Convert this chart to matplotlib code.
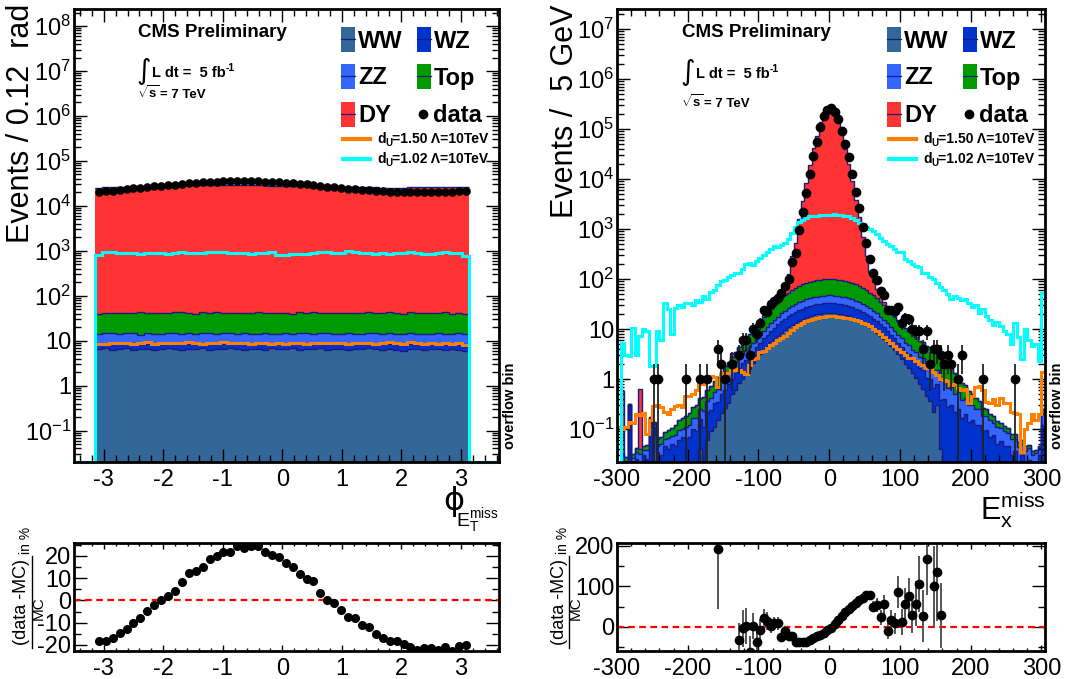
import numpy as np
import matplotlib
matplotlib.use("Agg")
import matplotlib.pyplot as plt
from matplotlib.patches import Rectangle
from matplotlib.lines import Line2D
from matplotlib.ticker import MultipleLocator, LogLocator, FuncFormatter, NullFormatter

plt.rcParams['font.family'] = ['Liberation Sans', 'DejaVu Sans']
plt.rcParams['mathtext.fontset'] = 'custom'
plt.rcParams['mathtext.rm'] = 'Liberation Sans'
plt.rcParams['mathtext.it'] = 'Liberation Sans:italic'
plt.rcParams['mathtext.bf'] = 'Liberation Sans:bold'
plt.rcParams['axes.unicode_minus'] = False

C_WW = '#336699'
C_WZ = '#0033cc'
C_ZZ = '#3366ff'
C_TOP = '#009900'
C_DY = '#ff3333'
C_SIG150 = '#ff7f00'
C_SIG102 = '#00ffff'
NAVY = '#1a1a80'

# ---------------- phi(MET) distribution, 54 bins over [-pi, pi] ----------------
phi_ww = [6.4, 6.8, 6.2, 6.6, 6.9, 6.3, 6.5, 6.7, 6.1, 6.6,
          6.8, 6.4, 6.2, 6.7, 6.5, 6.9, 6.3, 6.6, 6.4, 6.8,
          6.5, 6.2, 6.7, 6.6, 6.3, 6.9, 6.4, 6.5, 7.0, 6.2,
          6.6, 6.4, 6.8, 6.3, 6.5, 6.7, 6.1, 6.6, 6.4, 6.8,
          6.5, 6.3, 6.6, 6.2, 5.8, 6.4, 6.7, 6.3, 6.5, 6.6,
          6.2, 6.4, 6.3, 6.0]
phi_wz = [2.1, 1.8, 2.6, 2.2, 1.9, 2.4, 2.0, 1.7, 2.5, 2.1,
          1.9, 2.3, 2.6, 1.8, 2.0, 1.7, 2.4, 2.2, 1.9, 2.1,
          2.3, 2.5, 1.8, 2.0, 2.4, 1.6, 2.2, 2.1, 1.7, 2.6,
          2.0, 2.3, 1.8, 2.4, 2.1, 1.9, 2.5, 2.0, 2.2, 1.8,
          2.1, 2.4, 1.9, 2.3, 2.6, 2.0, 1.8, 2.2, 2.1, 1.9,
          2.3, 2.0, 2.2, 2.4]
phi_zz = [5.6, 6.2, 5.8, 5.4, 6.4, 5.9, 5.2, 6.1, 5.7, 5.5,
          6.3, 5.8, 5.6, 6.6, 5.4, 6.0, 5.9, 5.5, 6.2, 5.7,
          5.6, 6.1, 5.8, 5.3, 6.0, 5.9, 5.7, 6.3, 5.5, 5.8,
          6.1, 5.4, 5.9, 6.2, 5.6, 5.8, 6.0, 5.5, 5.7, 6.4,
          5.9, 5.6, 6.1, 5.8, 5.5, 6.2, 5.7, 5.9, 5.4, 6.0,
          5.8, 5.6, 6.1, 5.7]
phi_top = [25, 27, 26, 28, 26, 27, 29, 26, 28, 27,
           26, 28, 30, 27, 26, 28, 27, 29, 26, 27,
           28, 26, 27, 29, 27, 26, 28, 27, 26, 28,
           27, 29, 26, 27, 28, 26, 27, 28, 26, 29,
           27, 26, 28, 27, 26, 28, 27, 26, 28, 27,
           29, 26, 27, 25]
phi_dy = [25500, 25800, 26200, 26500, 26900, 27200, 27500, 27800, 28000, 28200,
          28400, 28500, 28600, 28700, 28800, 28800, 28900, 28900, 28900, 28800,
          28800, 28700, 28600, 28500, 28400, 28300, 28100, 28000, 27800, 27600,
          27400, 27200, 27000, 26800, 26600, 26400, 26200, 26000, 25800, 25700,
          25600, 25500, 25400, 25400, 25500, 25600, 25700, 25800, 25900, 26000,
          26100, 26200, 26300, 26300]
phi_sig150 = [8.3, 8.6, 9.0, 8.7, 8.9, 8.5, 8.8, 9.2, 8.6, 8.9,
              9.1, 8.7, 8.8, 9.3, 8.9, 8.6, 9.0, 8.8, 9.4, 8.7,
              8.9, 9.1, 8.5, 8.8, 9.0, 8.6, 8.9, 8.3, 8.7, 8.9,
              8.6, 8.8, 8.7, 9.0, 8.8, 8.9, 8.5, 9.1, 8.7, 8.8,
              8.4, 8.9, 9.2, 8.8, 8.6, 9.3, 8.7, 8.5, 9.0, 8.4,
              8.8, 8.6, 9.0, 7.9]
phi_sig102 = [800, 950, 940, 910, 900, 880, 860, 900, 910, 880,
              870, 890, 920, 900, 880, 910, 930, 950, 920, 890,
              900, 880, 860, 890, 900, 920, 800, 820, 850, 870,
              860, 900, 920, 950, 880, 900, 990, 920, 910, 880,
              870, 900, 860, 880, 910, 920, 880, 850, 870, 900,
              940, 900, 880, 780]
phi_data = [20860, 21100, 21750, 22580, 23460, 24400, 25300, 26490, 27440, 28230,
            28970, 29750, 31030, 32290, 32660, 33180, 34300, 34680, 35230, 35080,
            35880, 35500, 35640, 35510, 34530, 34040, 33640, 32760, 32030, 30940,
            30060, 29620, 27860, 26910, 26310, 25240, 24210, 23920, 22960, 22640,
            21710, 21190, 20800, 20730, 20480, 20220, 19990, 20250, 20330, 20180,
            20620, 20300, 20940, 21040]
phi_ratio = [-18.2, -18.2, -17.0, -14.8, -12.8, -10.3, -8.0, -4.7, -2.0, 0.1,
             2.0, 4.4, 8.5, 12.5, 13.4, 15.2, 18.7, 20.0, 21.9, 21.8,
             24.6, 23.7, 24.6, 24.6, 21.6, 20.3, 19.7, 17.0, 15.2, 12.1,
             9.7, 8.9, 3.2, 0.4, -1.1, -4.4, -7.6, -8.0, -11.0, -11.9,
             -15.2, -16.9, -18.1, -18.4, -19.7, -21.0, -22.2, -21.5, -21.5, -22.4,
             -21.0, -22.5, -20.4, -20.0]

# ---------------- MET_x distribution, 120 bins of 5 GeV + overflow ----------------
ex_ww = [0, 0, 0, 0, 0, 0, 0, 0, 0, 0,
         0.08, 0, 0, 0, 0, 0, 0, 0, 0, 0,
         0, 0, 0, 0.04, 0, 0.06, 0.09, 0.11, 0.15, 0.21,
         0.27, 0.34, 0.5, 0.6, 0.84, 1.0, 1.35, 1.6, 2.1, 2.5,
         3.1, 3.8, 4.5, 5.4, 6.2, 7.3, 8.4, 9.6, 10.8, 12.0,
         13.3, 14.6, 15.8, 16.9, 17.9, 18.9, 19.6, 20.2, 20.6, 20.9,
         20.9, 20.6, 20.2, 19.6, 18.9, 17.9, 16.9, 15.8, 14.6, 13.3,
         12.0, 10.8, 9.6, 8.4, 7.3, 6.3, 5.4, 4.5, 3.8, 3.1,
         2.55, 2.0, 1.7, 1.3, 1.05, 0.8, 0.64, 0.46, 0.36, 0.22,
         0.3, 0.04, 0, 0, 0, 0, 0, 0, 0, 0,
         0, 0, 0, 0, 0, 0, 0, 0, 0, 0,
         0, 0, 0, 0, 0, 0, 0, 0, 0, 0, 0]
ex_wz = [0.01, 0.02, 0.015, 0.3, 0.02, 0.025, 0.02, 0.03, 0.025, 0.15,
         0.03, 0.035, 0.03, 0.045, 0.04, 0.05, 0.045, 0.06, 0.07, 0.065,
         0.07, 0.1, 0.09, 0.12, 0.11, 0.16, 0.15, 0.22, 0.2, 0.3,
         0.33, 0.45, 0.5, 0.75, 0.8, 1.05, 1.1, 1.35, 1.45, 1.8,
         2.2, 2.7, 3.2, 3.8, 4.5, 5.1, 5.8, 6.5, 7.3, 8.1,
         8.7, 9.2, 9.8, 10.3, 10.8, 11.1, 11.4, 11.7, 11.9, 12.0,
         12.0, 11.9, 11.7, 11.4, 11.1, 10.8, 10.3, 9.8, 9.2, 8.7,
         8.1, 7.3, 6.5, 5.8, 5.1, 4.5, 3.8, 3.2, 2.7, 2.2,
         1.85, 1.5, 1.45, 1.1, 1.1, 0.85, 0.85, 0.6, 0.65, 0.45,
         0.5, 0.35, 0.4, 0.28, 0.3, 0.22, 0.25, 0.17, 0.2, 0.14,
         0.15, 0.12, 0.12, 0.09, 0.095, 0.07, 0.075, 0.05, 0.058, 0.045,
         0.046, 0.03, 0.036, 0.02, 0.03, 0.018, 0.024, 0.015, 0.02, 0.03, 0.12]
ex_zz = [0.005, 0.01, 0.008, 0.012, 0.006, 0.01, 0.012, 0.008, 0.014, 0.012,
         0.015, 0.012, 0.02, 0.018, 0.025, 0.022, 0.03, 0.035, 0.03, 0.045,
         0.05, 0.065, 0.08, 0.09, 0.12, 0.14, 0.18, 0.22, 0.28, 0.35,
         0.45, 0.55, 0.68, 0.8, 0.95, 1.1, 1.3, 1.5, 1.75, 2.1,
         2.4, 2.8, 3.3, 3.9, 4.6, 5.4, 6.3, 7.2, 8.1, 9.0,
         9.8, 10.6, 11.3, 12.0, 12.6, 13.1, 13.4, 13.7, 13.9, 14.0,
         14.0, 13.9, 13.7, 13.4, 13.1, 12.6, 12.0, 11.3, 10.6, 9.8,
         9.0, 8.1, 7.2, 6.3, 5.4, 4.6, 3.9, 3.3, 2.8, 2.4,
         2.1, 1.8, 1.7, 1.4, 1.4, 1.15, 1.1, 0.9, 0.88, 0.72,
         0.7, 0.52, 0.52, 0.38, 0.38, 0.28, 0.29, 0.21, 0.21, 0.17,
         0.16, 0.13, 0.13, 0.09, 0.09, 0.08, 0.06, 0.06, 0.045, 0.045,
         0.037, 0.032, 0.028, 0.024, 0.021, 0.019, 0.017, 0.015, 0.013, 0.012, 0.08]
ex_top = [0.003, 0.004, 0.005, 0.005, 0.006, 0.007, 0.008, 0.009, 0.01, 0.012,
          0.014, 0.016, 0.02, 0.025, 0.03, 0.035, 0.045, 0.055, 0.065, 0.075,
          0.09, 0.11, 0.14, 0.17, 0.2, 0.24, 0.3, 0.37, 0.45, 0.55,
          0.75, 0.9, 1.1, 1.4, 1.8, 2.2, 2.8, 3.5, 4.6, 5.8,
          7.1, 8.5, 10.3, 12.3, 14.8, 17.5, 20.5, 24, 27.5, 31,
          34.5, 38, 41, 44, 46.5, 49, 50.5, 52, 52.7, 53,
          53, 52.7, 52, 50.5, 49, 46.5, 44, 41, 38, 34.5,
          31, 27.5, 24, 20.5, 17.5, 14.8, 12.5, 10.3, 8.5, 7.1,
          5.8, 5.0, 4.2, 3.7, 3.3, 3.0, 2.8, 2.6, 2.4, 2.2,
          2.0, 1.75, 1.5, 1.25, 1.0, 0.8, 0.6, 0.47, 0.35, 0.27,
          0.2, 0.16, 0.12, 0.09, 0.07, 0.055, 0.045, 0.035, 0.03, 0.025,
          0.02, 0.018, 0.015, 0.012, 0.01, 0.008, 0.007, 0.006, 0.005, 0.004, 0.05]
ex_dy = [0, 0.55, 0, 0, 0, 0, 0.6, 0, 0, 0,
         0, 0, 0, 0, 0, 0, 0, 0, 0, 0,
         0, 0, 0, 0, 0, 0, 0, 0, 0, 0,
         0, 0, 0.6, 0, 0, 0, 0.5, 0, 0, 0.3,
         0.5, 1.5, 1.2, 1.0, 1.5, 4, 20, 33, 70, 230,
         470, 1500, 3550, 8250, 19100, 40800, 73700, 136000, 215000, 264000,
         267000, 212000, 141000, 78000, 39400, 20100, 8870, 3780, 1650, 620,
         235, 86, 41, 21, 12, 5, 2.5, 1.2, 0.6, 0.3,
         0.2, 0, 0, 0, 0, 0, 0, 0, 0, 0,
         0, 0, 0, 0, 0, 0, 0, 0, 0, 0,
         0, 0, 0, 0, 0, 0, 0, 0, 0, 0,
         0, 0, 0, 0, 0, 0, 0, 0, 0, 0, 0]
ex_sig150 = [0.11, 0.1, 0.11, 0.14, 0.13, 0.2, 0.19, 0.21, 0.08, 0.15,
             0.29, 0.3, 0.28, 0.22, 0.2, 0.25, 0.29, 0.3, 0.28, 0.45,
             0.46, 0.5, 0.6, 0.85, 0.8, 1.0, 1.15, 1.1, 0.7, 1.2,
             1.35, 1.3, 1.5, 1.6, 1.5, 1.4, 1.25, 1.9, 2.5, 2.6,
             3.4, 3.6, 4.2, 4.9, 5.3, 6.0, 6.6, 7.2, 8.3, 9.5,
             11, 12.3, 13.5, 14.5, 15.5, 16.2, 17, 17.5, 17.8, 18,
             18, 18, 17.8, 17.5, 17, 16.6, 16, 15.3, 14.6, 13.4,
             12.5, 11.3, 10, 9, 7.8, 6.8, 6, 5.3, 4.6, 4.0,
             3.5, 3.0, 2.7, 2.7, 2.3, 2.0, 1.9, 1.7, 1.7, 1.4,
             1.2, 1.0, 0.95, 0.9, 0.75, 0.8, 0.65, 0.6, 0.63, 0.34,
             0.45, 0.7, 0.72, 0.6, 0.35, 0.34, 0.4, 0.3, 0.42, 0.34,
             0.33, 0.22, 0.21, 0.2, 0.035, 0.1, 0.13, 0.2, 0.15, 0.2, 1.4]
ex_sig102 = [0, 5.3, 3.0, 2.9, 10.5, 3.0, 7.2, 10, 9, 1.8,
             1.8, 9, 6, 33, 25, 8, 26, 30, 28, 33,
             33, 30, 38, 35, 45, 40, 55, 60, 75, 90,
             95, 110, 120, 130, 135, 160, 200, 210, 195, 230,
             260, 300, 340, 400, 450, 440, 480, 520, 620, 850,
             1100, 1350, 1500, 1650, 1800, 1850, 1850, 1900, 1880, 1900,
             1920, 1950, 1900, 1880, 1850, 1800, 1650, 1500, 1300, 1250,
             1100, 1000, 900, 780, 650, 580, 500, 450, 400, 350,
             340, 250, 230, 200, 180, 175, 135, 130, 110, 98,
             85, 70, 60, 50, 39, 45, 42, 38, 40, 33,
             28, 30, 21, 25, 18, 15, 12, 14, 11.5, 9,
             8, 5, 13, 7, 2.5, 10, 6, 4.5, 5, 2.3, 53]

ex_data_x = [-247.5, -242.5, -202.5, -182.5, -172.5, -157.5, -152.5, -147.5, -137.5, -127.5,
             -122.5, -117.5, -112.5, -107.5, -102.5, -97.5, -92.5, -87.5, -82.5, -77.5,
             -72.5, -67.5, -62.5, -57.5, -52.5, -47.5, -42.5, -37.5, -32.5, -27.5,
             -22.5, -17.5, -12.5, -7.5, -2.5, 2.5, 7.5, 12.5, 17.5, 22.5,
             27.5, 32.5, 37.5, 42.5, 47.5, 52.5, 57.5, 62.5, 67.5, 72.5,
             77.5, 82.5, 87.5, 92.5, 97.5, 102.5, 107.5, 112.5, 117.5, 122.5,
             127.5, 132.5, 137.5, 142.5, 147.5, 152.5, 157.5, 162.5, 167.5, 172.5,
             182.5, 187.5, 217.5, 262.5]
ex_data_n = [1, 1, 1, 1, 1, 4, 2, 1, 2, 3,
             6, 6, 3, 10, 8, 13, 24, 22, 31, 36,
             42, 53, 72, 98, 220, 335, 940, 2200, 5200, 12600,
             29000, 56000, 109000, 183000, 240000, 262000, 223000, 158000, 93000, 50000,
             27000, 12600, 5600, 2570, 1120, 525, 250, 132, 96, 58,
             49, 24, 24, 23, 27, 13, 17, 16, 10, 9,
             9, 4, 9, 2, 4, 4, 3, 2, 3, 2,
             1, 3, 1, 1]

ex_ratio_x = [-157.5, -127.5, -122.5, -117.5, -112.5, -107.5, -102.5, -97.5, -92.5, -87.5,
              -82.5, -77.5, -72.5, -67.5, -62.5, -57.5, -52.5, -47.5, -42.5, -37.5,
              -32.5, -27.5, -22.5, -17.5, -12.5, -7.5, -2.5, 2.5, 7.5, 12.5,
              17.5, 22.5, 27.5, 32.5, 37.5, 42.5, 47.5, 52.5, 57.5, 62.5,
              67.5, 72.5, 77.5, 82.5, 87.5, 92.5, 97.5, 102.5, 107.5, 112.5,
              117.5, 122.5, 127.5, 132.5, 137.5, 147.5, 152.5, 157.5]
ex_ratio = [193, -32, -4, 2, -63, 2, -37, -7, 21, 14,
            2, 8, 8, -26, -10, -24, -24, -38, -38, -38,
            -37, -34, -29, -24, -20, -15, -9, -2, 7, 17,
            26, 36, 45, 51, 59, 65, 70, 78, 78, 50,
            54, 23, 55, -10, 16, 8, 86, 11, 55, 76,
            29, 57, 106, 27, 168, 100, 135, 28]
ex_ratio_err = [150, 40, 45, 45, 40, 33, 28, 25, 22, 22,
                18, 17, 16, 10, 11, 8, 6, 4, 3, 2,
                1, 1, 1, 1, 1, 1, 1, 1, 1, 1,
                1, 1, 2, 2, 3, 4, 5, 8, 10, 14,
                17, 18, 24, 20, 25, 25, 40, 32, 40, 45,
                45, 55, 70, 65, 90, 100, 120, 80]

W, H = 1075, 679
fig = plt.figure(figsize=(W / 100, H / 100), dpi=100)


def frame(x0, y0, x1, y1):
    return [x0 / W, 1 - y1 / H, (x1 - x0) / W, (y1 - y0) / H]


def fx(x):
    return x / W


def fy(y):
    return 1 - y / H


def log_label(v, pos):
    e = int(round(np.log10(v)))
    if e == 0:
        return '1'
    if e == 1:
        return '10'
    return r'$10^{%d}$' % e


def style(ax, xlen=9.4, ylen=9.4):
    for s in ax.spines.values():
        s.set_linewidth(2)
        s.set_zorder(5)
    ax.tick_params(which='both', direction='in', top=True, right=True, labelsize=17, width=1)
    ax.tick_params(axis='x', which='major', length=xlen, pad=5)
    ax.tick_params(axis='x', which='minor', length=xlen / 2)
    ax.tick_params(axis='y', which='major', length=ylen, pad=2)
    ax.tick_params(axis='y', which='minor', length=ylen / 2)


def draw_stack(ax, edges, comps, colors, floor=1e-4):
    tops = []
    cum = np.zeros(len(edges) - 1)
    for c in comps:
        cum = cum + np.asarray(c, dtype=float)
        tops.append(cum.copy())
    for top, col in zip(tops[::-1], colors[::-1]):
        ax.stairs(np.maximum(top, floor), edges, baseline=floor, fill=True,
                  color=col, lw=0, zorder=1)
    for top in tops:
        ax.stairs(np.maximum(top, floor), edges, baseline=None, color=NAVY,
                  lw=1.0, zorder=2)


def draw_signal(ax, edges, vals, color, ymin):
    v = np.where(np.asarray(vals, dtype=float) > ymin, vals, ymin)
    ax.stairs(v, edges, baseline=None, color=color, lw=2.2, zorder=3, clip_on=False)


comps_colors = [C_WW, C_WZ, C_ZZ, C_TOP, C_DY]

# ---------------- left: phi ----------------
ax1 = fig.add_axes(frame(74, 9, 499, 462))
phi_edges = np.linspace(-np.pi, np.pi, 55)
phi_centers = 0.5 * (phi_edges[1:] + phi_edges[:-1])
phi_lim = (-3.5, 3.64)
phi_ymin = 0.02
draw_stack(ax1, phi_edges, [phi_ww, phi_wz, phi_zz, phi_top, phi_dy], comps_colors)
ext_edges = np.concatenate([[phi_lim[0]], phi_edges, [phi_lim[1]]])
draw_signal(ax1, ext_edges, np.concatenate([[0], phi_sig150, [0]]), C_SIG150, phi_ymin)
draw_signal(ax1, ext_edges, np.concatenate([[0], phi_sig102, [0]]), C_SIG102, phi_ymin)
ax1.plot(phi_centers, phi_data, 'o', color='black', ms=5.2, zorder=4)
ax1.set_yscale('log')
ax1.set_xlim(*phi_lim)
ax1.set_ylim(phi_ymin, 2.4e8)
ax1.xaxis.set_major_locator(MultipleLocator(1))
ax1.xaxis.set_minor_locator(MultipleLocator(0.2))
ax1.yaxis.set_major_locator(LogLocator(base=10, numticks=20))
ax1.yaxis.set_minor_locator(LogLocator(base=10, subs=np.arange(2, 10), numticks=20))
ax1.yaxis.set_major_formatter(FuncFormatter(log_label))
ax1.yaxis.set_minor_formatter(NullFormatter())
style(ax1)

# ---------------- right: MET_x ----------------
ax2 = fig.add_axes(frame(617, 9, 1045, 462))
ex_edges = np.append(np.linspace(-300, 300, 121), 305)
ex_ymin = 0.022
draw_stack(ax2, ex_edges, [ex_ww, ex_wz, ex_zz, ex_top, ex_dy], comps_colors)
draw_signal(ax2, ex_edges, ex_sig150, C_SIG150, ex_ymin)
draw_signal(ax2, ex_edges, ex_sig102, C_SIG102, ex_ymin)
n = np.asarray(ex_data_n, dtype=float)
lo = n - np.maximum(n - np.sqrt(n), 1e-4)
ax2.errorbar(ex_data_x, n, yerr=[lo, np.sqrt(n)], fmt='o', color='black', ms=6,
             ecolor='#222222', elinewidth=1.3, capsize=0, zorder=4)
ax2.set_yscale('log')
ax2.set_xlim(-300, 305)
ax2.set_ylim(ex_ymin, 2.5e7)
ax2.xaxis.set_major_locator(MultipleLocator(100))
ax2.xaxis.set_minor_locator(MultipleLocator(20))
ax2.yaxis.set_major_locator(LogLocator(base=10, numticks=20))
ax2.yaxis.set_minor_locator(LogLocator(base=10, subs=np.arange(2, 10), numticks=20))
ax2.yaxis.set_major_formatter(FuncFormatter(log_label))
ax2.yaxis.set_minor_formatter(NullFormatter())
style(ax2)

# ---------------- ratio panels ----------------
r1 = fig.add_axes(frame(74, 543, 499, 651))
r1.axhline(0, color='red', lw=1.6, ls=(0, (3, 2)), zorder=2)
r1.plot(phi_centers, phi_ratio, 'o', color='black', ms=5.5, zorder=3)
r1.set_xlim(*phi_lim)
r1.set_ylim(-22.7, 25.8)
r1.xaxis.set_major_locator(MultipleLocator(1))
r1.xaxis.set_minor_locator(MultipleLocator(0.2))
r1.yaxis.set_major_locator(MultipleLocator(10))
r1.yaxis.set_minor_locator(MultipleLocator(5))
style(r1, xlen=4.5, ylen=9.4)

r2 = fig.add_axes(frame(617, 543, 1045, 651))
r2.axhline(0, color='red', lw=1.6, ls=(0, (3, 2)), zorder=2)
r2.errorbar(ex_ratio_x, ex_ratio, yerr=ex_ratio_err, fmt='o', color='black', ms=6,
            ecolor='#555555', elinewidth=1.4, capsize=0, zorder=3)
r2.set_xlim(-300, 305)
r2.set_ylim(-60, 207)
r2.xaxis.set_major_locator(MultipleLocator(100))
r2.xaxis.set_minor_locator(MultipleLocator(20))
r2.yaxis.set_major_locator(MultipleLocator(100))
r2.yaxis.set_minor_locator(MultipleLocator(50))
style(r2, xlen=4.5, ylen=9.4)

# ---------------- titles and labels ----------------
fig.text(fx(21), fy(4), 'Events / 0.12  rad', rotation=90, ha='center', va='top', fontsize=22)
fig.text(fx(565), fy(4), 'Events /  5 GeV', rotation=90, ha='center', va='top', fontsize=22)

# phi of MET: upright phi with a E_T^miss subscript
fig.text(fx(443), fy(510), '\u03d5', ha='left', va='baseline', fontsize=23,
         family='DejaVu Sans')
fig.text(fx(499), fy(526), r'$\mathrm{E}_{\mathrm{T}}^{\mathrm{miss}}$', ha='right',
         va='baseline', fontsize=14)
fig.text(fx(1046), fy(520), r'$\mathrm{E}_{\mathrm{x}}^{\mathrm{miss}}$', ha='right',
         va='baseline', fontsize=22)


def ratio_title(xc):
    # (data -MC) over MC, with an "in %" subscript, read bottom to top
    fig.text(fx(xc), fy(602), '(data -MC)', rotation=90, ha='center', va='center', fontsize=13)
    fig.add_artist(Line2D([fx(xc + 10), fx(xc + 10)], [fy(648), fy(556)],
                          transform=fig.transFigure, color='black', lw=1))
    fig.text(fx(xc + 17), fy(608), 'MC', rotation=90, ha='center', va='center', fontsize=11)
    fig.text(fx(xc + 4), fy(554), 'in %', rotation=90, ha='center', va='bottom', fontsize=10)


ratio_title(22)
ratio_title(559)

for xo in (510, 1057):
    fig.text(fx(xo), fy(406), 'overflow bin', rotation=90, ha='center', va='center',
             fontsize=10.5, weight='bold')


def header(x0, ylumi, ysqrt):
    fig.text(fx(x0), fy(37), 'CMS Preliminary', fontsize=13.5, weight='bold', va='baseline')
    fig.text(fx(x0 - 2), fy(ylumi - 6), '\u222b', fontsize=20, family='DejaVu Sans',
             va='center', ha='left')
    fig.text(fx(x0 + 14), fy(ylumi), 'L dt =  5 fb', fontsize=10.5, weight='bold',
             va='baseline')
    fig.text(fx(x0 + 88), fy(ylumi - 6), '-1', fontsize=7.5, weight='bold', va='baseline')
    fig.text(fx(x0 - 1), fy(ysqrt), r'$\mathbf{\sqrt{s}}$', fontsize=9.5, va='baseline')
    fig.text(fx(x0 + 22), fy(ysqrt), '= 7 TeV', fontsize=9.5, weight='bold', va='baseline')


def legend(x0):
    rows = [39, 76, 114]
    entries = [('WW', C_WW, 0, 0), ('WZ', C_WZ, 1, 0), ('ZZ', C_ZZ, 0, 1),
               ('Top', C_TOP, 1, 1), ('DY', C_DY, 0, 2)]
    for name, col, c, r in entries:
        bx = x0 + 76 * c
        yc = rows[r]
        fig.add_artist(Rectangle((fx(bx), fy(yc + 12.5)), 14 / W, 25 / H,
                                 transform=fig.transFigure, facecolor=col, edgecolor='none'))
        fig.add_artist(Line2D([fx(bx), fx(bx + 14)], [fy(yc), fy(yc)],
                              transform=fig.transFigure, color=NAVY, lw=0.9))
        fig.text(fx(bx + 17), fy(yc + 8.5), name, fontsize=17, weight='bold', va='baseline')
    bx = x0 + 76
    fig.add_artist(Line2D([fx(bx + 6)], [fy(rows[2])], transform=fig.transFigure,
                          marker='o', color='black', ms=6))
    fig.text(fx(bx + 16), fy(rows[2] + 8.5), 'data', fontsize=17, weight='bold', va='baseline')
    for yl, col, du in [(139, C_SIG150, '1.50'), (159, C_SIG102, '1.02')]:
        fig.add_artist(Line2D([fx(x0 + 2), fx(x0 + 29)], [fy(yl), fy(yl)],
                              transform=fig.transFigure, color=col, lw=3))
        tx = x0 + 36
        fig.text(fx(tx), fy(yl + 4), 'd', fontsize=10, weight='bold', va='baseline')
        fig.text(fx(tx + 8.5), fy(yl + 7), 'U', fontsize=7, weight='bold', va='baseline')
        fig.text(fx(tx + 15.5), fy(yl + 4), '=%s \u039b=10TeV' % du, fontsize=10,
                 weight='bold', va='baseline')


header(138, 77, 98)
header(682, 78, 107)
legend(341)
legend(887)

fig.savefig('out.png', dpi=100)
